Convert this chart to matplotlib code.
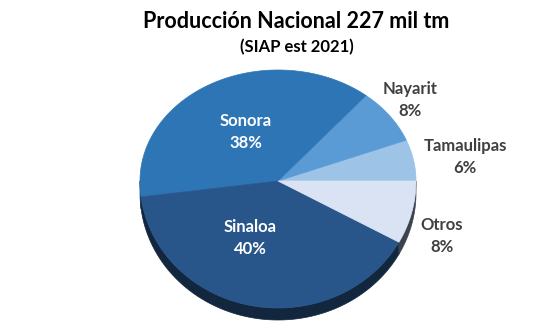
import numpy as np
import matplotlib.pyplot as plt

# Producción nacional por estado (porcentaje)
estados = ["Tamaulipas", "Nayarit", "Sonora", "Sinaloa", "Otros"]
porcentajes = [6, 8, 38, 40, 8]
colores = ["#9DC3E6", "#5B9BD5", "#2E75B6", "#28568A", "#DAE3F3"]
colores_lado = ["#5f7f9c", "#3a6590", "#1b436b", "#12263d", "#3c424c"]

titulo = "Producción Nacional 227 mil tm"
subtitulo = "(SIAP est 2021)"

# geometry of the tilted pie, in pixel units
cx, cy = 278, 181
rx, ry_back, ry_front = 138, 111, 127
depth = 12

# label placement (pixel centres) and text colour
label_pos = {"Tamaulipas": (465, 157), "Nayarit": (410, 100), "Sonora": (246, 132),
             "Sinaloa": (250, 238), "Otros": (442, 236)}
label_col = {"Tamaulipas": "#404040", "Nayarit": "#404040", "Sonora": "white",
             "Sinaloa": "white", "Otros": "#404040"}

plt.rcParams["font.family"] = ["Lato", "DejaVu Sans"]

fig = plt.figure(figsize=(5.42, 3.27), dpi=100)
ax = fig.add_axes([0, 0, 1, 1])
ax.set_xlim(0, 542)
ax.set_ylim(327, 0)
ax.axis("off")


def edge(t):
    s = np.sin(t)
    x = cx + rx * np.cos(t)
    y = cy - np.where(s > 0, ry_back, ry_front) * s
    return x, y


bounds = np.concatenate([[0], np.cumsum(porcentajes)]) * 3.6

# side wall of the front half
for i in range(len(estados)):
    a0, a1 = max(bounds[i], 180), min(bounds[i + 1], 360)
    if a1 <= a0:
        continue
    t = np.radians(np.linspace(a0, a1, 200))
    x, y = edge(t)
    ax.fill(np.concatenate([x, x[::-1]]), np.concatenate([y, y[::-1] + depth]),
            color=colores_lado[i], lw=0.5, zorder=1)

# top faces
for i, est in enumerate(estados):
    t = np.radians(np.linspace(bounds[i], bounds[i + 1], 300))
    x, y = edge(t)
    ax.fill(np.concatenate([[cx], x]), np.concatenate([[cy], y]),
            facecolor=colores[i], edgecolor=colores[i], lw=0.5, zorder=2)
    lx, ly = label_pos[est]
    ax.text(lx, ly, f"{est}\n{porcentajes[i]}%", ha="center", va="center",
            fontsize=12, fontweight="bold", color=label_col[est],
            linespacing=1.4, zorder=3)

fig.text(296 / 542, 1 - 21 / 327, titulo, ha="center", va="center",
         fontsize=15.5, fontweight="bold", color="black")
fig.text(297 / 542, 1 - 47 / 327, subtitulo, ha="center", va="center",
         fontsize=12, fontweight="bold", color="black")

fig.savefig("out.png", dpi=100)
